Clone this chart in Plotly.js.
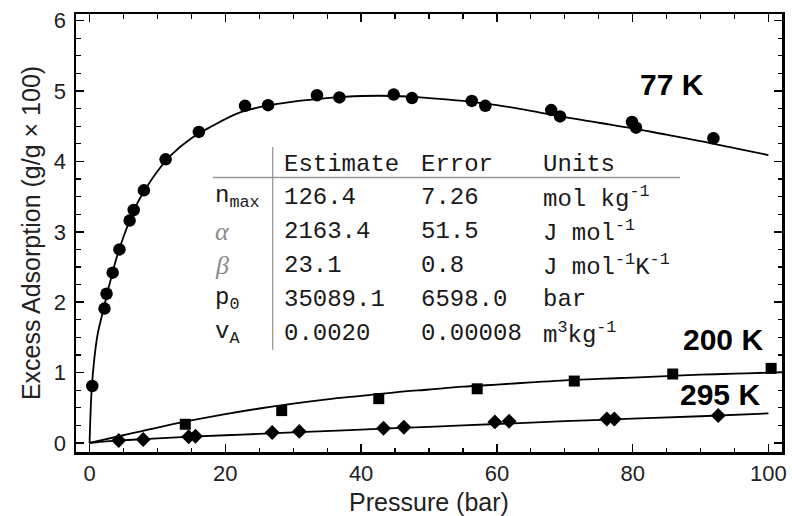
<!DOCTYPE html>
<html>
<head>
<meta charset="utf-8">
<script src="https://cdn.plot.ly/plotly-3.0.1.min.js"></script>
<style>html,body{margin:0;padding:0;background:#fff;}#chart{width:792px;height:516px;}</style>
</head>
<body>
<div id="chart"></div>
<script>
// ---- measured data (77 K) ----
const pressure77 = [0.4, 2.2, 2.5, 3.4, 4.4, 5.9, 6.5, 8.0, 11.2, 16.1, 22.9, 26.3, 33.5, 36.8, 44.8, 47.5, 56.3, 58.3, 68.0, 69.3, 79.9, 80.5, 91.9];
const uptake77   = [0.81, 1.91, 2.12, 2.42, 2.75, 3.16, 3.31, 3.59, 4.03, 4.42, 4.79, 4.80, 4.94, 4.91, 4.95, 4.90, 4.86, 4.79, 4.73, 4.64, 4.56, 4.48, 4.33];
// ---- measured data (200 K) ----
const pressure200 = [14.1, 28.3, 42.6, 57.1, 71.4, 85.9, 100.4];
const uptake200   = [0.266, 0.46, 0.63, 0.77, 0.88, 0.98, 1.06];
// ---- measured data (295 K) ----
const pressure295 = [4.3, 7.9, 14.6, 15.6, 26.9, 30.9, 43.3, 46.3, 59.7, 61.8, 76.2, 77.3, 92.6];
const uptake295   = [0.035, 0.05, 0.09, 0.095, 0.15, 0.165, 0.21, 0.225, 0.30, 0.31, 0.34, 0.34, 0.39];
// ---- fitted curves ----
const fitP77 = [0, 0.3, 0.7, 1.2, 2.0, 3.0, 4.0, 5.0, 6.0, 7.0, 8.0, 10, 12, 15, 18, 22, 26, 30, 35, 40, 45, 50, 55, 60, 65, 70, 75, 80, 85, 90, 95, 100];
const fitN77 = [0, 0.75, 1.2, 1.55, 1.88, 2.28, 2.64, 2.93, 3.18, 3.40, 3.57, 3.86, 4.09, 4.33, 4.50, 4.69, 4.79, 4.85, 4.90, 4.93, 4.93, 4.90, 4.86, 4.80, 4.72, 4.63, 4.55, 4.47, 4.38, 4.29, 4.19, 4.09];
const fitP200 = [0, 5, 10, 15, 20, 25, 30, 35, 40, 45, 50, 55, 60, 65, 70, 75, 80, 85, 90, 95, 100, 102];
const fitN200 = [0, 0.11, 0.22, 0.32, 0.41, 0.49, 0.56, 0.62, 0.67, 0.72, 0.76, 0.80, 0.83, 0.86, 0.89, 0.91, 0.93, 0.95, 0.97, 0.985, 1.0, 1.005];
const fitP295 = [0, 5, 10, 15, 20, 25, 30, 40, 50, 60, 70, 80, 90, 100];
const fitN295 = [0, 0.04, 0.065, 0.09, 0.11, 0.13, 0.15, 0.19, 0.23, 0.27, 0.31, 0.345, 0.38, 0.42];
// ---- series labels ----
const seriesLabels = ["77 K", "200 K", "295 K"];
// ---- parameter table ----
const tableHeader = ["Estimate", "Error", "Units"];
const paramNames = ["n<sub>max</sub>", "<i>α</i>", "<i>β</i>", "p<sub>0</sub>", "v<sub>A</sub>"];
const estimates = ["126.4", "2163.4", "23.1", "35089.1", "0.0020"];
const errors = ["7.26", "51.5", "0.8", "6598.0", "0.00008"];
const units = ["mol kg<sup>-1</sup>", "J mol<sup>-1</sup>", "J mol<sup>-1</sup>K<sup>-1</sup>", "bar", "m<sup>3</sup>kg<sup>-1</sup>"];

// ---- layout geometry ----
const W = 792, H = 516;
const M = {l: 76, r: 10, t: 14, b: 64};
const PW = W - M.l - M.r, PH = H - M.t - M.b;
const px = x => (x - M.l) / PW;
const py = y => 1 - (y - M.t) / PH;

const sans = "Liberation Sans, Arial, Helvetica, sans-serif";
const mono = "Liberation Mono, Courier New, monospace";
const ink = "#1a1a1a";

const traces = [
  {x: fitP77, y: fitN77, mode: "lines", line: {color: "#000", width: 1.8, shape: "spline", smoothing: 1}, hoverinfo: "skip"},
  {x: fitP200, y: fitN200, mode: "lines", line: {color: "#000", width: 1.8, shape: "spline", smoothing: 1}, hoverinfo: "skip"},
  {x: fitP295, y: fitN295, mode: "lines", line: {color: "#000", width: 1.8, shape: "spline", smoothing: 1}, hoverinfo: "skip"},
  {x: pressure77, y: uptake77, mode: "markers", name: seriesLabels[0], marker: {symbol: "circle", size: 12.5, color: "#000"}},
  {x: pressure200, y: uptake200, mode: "markers", name: seriesLabels[1], marker: {symbol: "square", size: 11, color: "#000"}},
  {x: pressure295, y: uptake295, mode: "markers", name: seriesLabels[2], marker: {symbol: "diamond", size: 11.5, color: "#000"}}
];

const annotations = [];
// series labels
const labelPos = [[672, 84], [723, 339], [720, 394]];
seriesLabels.forEach((t, i) => {
  annotations.push({text: t, xref: "paper", yref: "paper", x: px(labelPos[i][0]), y: py(labelPos[i][1]),
    xanchor: "center", yanchor: "middle", showarrow: false,
    font: {family: sans, size: 30, color: "#000", weight: "bold"}});
});
// table
const colX = [213, 282, 419, 541];
const headY = 164;
const rowY = [197.5, 231.5, 265, 299, 333];
tableHeader.forEach((t, j) => {
  annotations.push({text: t, xref: "paper", yref: "paper", x: px(colX[j + 1]), y: py(headY),
    xanchor: "left", yanchor: "middle", showarrow: false, font: {family: mono, size: 24, color: ink}});
});
paramNames.forEach((t, i) => {
  const grey = (i === 1 || i === 2);
  annotations.push({text: t, xref: "paper", yref: "paper", x: px(colX[0]), y: py(rowY[i]),
    xanchor: "left", yanchor: "middle", showarrow: false,
    font: {family: grey ? "Liberation Serif, Times New Roman, serif" : mono, size: grey ? 26 : 24, color: grey ? "#8a8a8a" : ink}});
  annotations.push({text: estimates[i], xref: "paper", yref: "paper", x: px(colX[1]), y: py(rowY[i]),
    xanchor: "left", yanchor: "middle", showarrow: false, font: {family: mono, size: 24, color: ink}});
  annotations.push({text: errors[i], xref: "paper", yref: "paper", x: px(colX[2]), y: py(rowY[i]),
    xanchor: "left", yanchor: "middle", showarrow: false, font: {family: mono, size: 24, color: ink}});
  annotations.push({text: units[i], xref: "paper", yref: "paper", x: px(colX[3]), y: py(rowY[i]),
    xanchor: "left", yanchor: "middle", showarrow: false, font: {family: mono, size: 24, color: ink}});
});

const shapes = [
  {type: "line", xref: "paper", yref: "paper", x0: px(213), x1: px(680), y0: py(177.5), y1: py(177.5), line: {color: "#999", width: 1.3}},
  {type: "line", xref: "paper", yref: "paper", x0: px(272.7), x1: px(272.7), y0: py(147), y1: py(350), line: {color: "#999", width: 1.3}}
];

const axisCommon = {
  showgrid: false, zeroline: false, showline: true, linecolor: "#000", linewidth: 2.5, mirror: "ticks",
  ticks: "inside", ticklen: 8, tickwidth: 1.5, tickcolor: "#000",
  tickfont: {family: sans, size: 22, color: "#222"}
};

const layout = {
  width: W, height: H, margin: M, paper_bgcolor: "#fff", plot_bgcolor: "#fff", showlegend: false,
  xaxis: Object.assign({}, axisCommon, {
    range: [-2.0, 102.0], tick0: 0, dtick: 20,
    minor: {dtick: 5, ticks: "inside", ticklen: 4.5, tickwidth: 1.2, tickcolor: "#000", showgrid: false},
    title: {text: "Pressure (bar)", font: {family: sans, size: 25, color: "#222"}, standoff: 10}
  }),
  yaxis: Object.assign({}, axisCommon, {
    range: [-0.128, 6.095], tick0: 0, dtick: 1, ticklabelstandoff: 3,
    minor: {dtick: 0.25, ticks: "inside", ticklen: 4.5, tickwidth: 1.2, tickcolor: "#000", showgrid: false},
    title: {text: "Excess Adsorption (g/g × 100)", font: {family: sans, size: 25, color: "#222"}, standoff: 6}
  }),
  annotations: annotations,
  shapes: shapes
};

Plotly.newPlot("chart", traces, layout, {staticPlot: true, displayModeBar: false});
</script>
</body>
</html>
